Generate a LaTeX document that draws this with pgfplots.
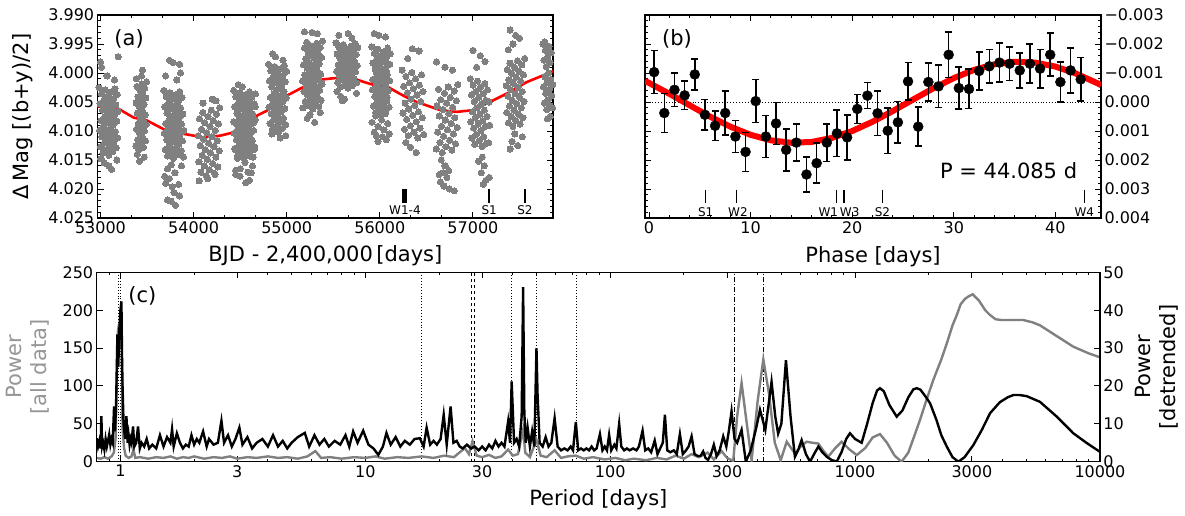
\documentclass[border=0pt]{standalone}
\usepackage{pgfplots}
\pgfplotsset{compat=1.18}
\usepackage{fontspec}
\setmainfont{DejaVu Sans}
\definecolor{dotgray}{RGB}{128,128,128}
\definecolor{labgray}{RGB}{150,150,150}
\definecolor{curvegray}{RGB}{128,128,128}
\newcommand{\tickfont}{\fontsize{16}{19}\selectfont}
\newcommand{\labfont}{\fontsize{21}{25}\selectfont}
\newcommand{\smallfont}{\fontsize{12}{14}\selectfont}
\pgfplotsset{
  myax/.style={
    scale only axis, anchor=south west,
    tick align=inside,
    major tick length=6pt, minor tick length=3pt,
    tick style={black, line width=0.9pt},
    axis line style={line width=1.2pt},
    tick label style={font=\tickfont},
    label style={font=\labfont},
    /pgf/number format/assume math mode=true,
    scaled ticks=false,
  }
}
\begin{document}
\begin{tikzpicture}
\path[use as bounding box] (0,0) rectangle (1185pt,515pt);

%================ panel (a)
\begin{axis}[myax, at={(97.7pt,297pt)}, width=455.3pt, height=203pt,
  xmin=52970, xmax=57860, ymin=3.990, ymax=4.025, y dir=reverse,
  xtick={53000,54000,55000,56000,57000}, xticklabels={53000,54000,55000,56000,57000},
  minor x tick num=2,
  ytick={3.990,3.995,4.000,4.005,4.010,4.015,4.020,4.025},
  yticklabels={3.990,3.995,4.000,4.005,4.010,4.015,4.020,4.025},
  minor y tick num=4,
  xlabel={BJD - 2,400,000\,[days]},
  ylabel={Δ\,Mag [(b+y)/2]},
  xlabel style={at={(axis description cs:0.5,-0.187)}, anchor=center},
  ylabel style={at={(axis description cs:-0.165,0.5)}, anchor=center},
]
\addplot[only marks, mark=*, mark size=3.1pt, color=dotgray, mark options={draw=dotgray, fill=dotgray, line width=0pt}] coordinates {
(52985,4.0025) (52990,4.0099) (52995,4.0053) (53000,4.0127) (53005,4.0082) (53010,4.0036) (53015,4.0110) (53020,4.0064) (53025,4.0138) (53030,4.0092)
(53035,4.0047) (53040,4.0121) (53045,4.0075) (53050,4.0029) (53055,4.0103) (53060,4.0057) (53065,4.0132) (53070,4.0086) (53075,4.0040) (53080,4.0114)
(53085,4.0068) (53090,4.0142) (53095,4.0097) (53100,4.0051) (53105,4.0125) (53110,4.0079) (53115,4.0033) (53120,4.0107) (53125,4.0062) (53130,4.0136)
(53135,4.0090) (53140,4.0044) (53145,4.0118) (53150,4.0072) (53155,4.0027) (53160,4.0101) (53165,4.0055) (53170,4.0129) (53175,4.0083) (53180,4.0037)
(53185,4.0112) (53190,4.0066)
(53000,3.9981) (53012,3.9990) (53190,3.9972) (53120,4.0166) (53040,4.0155) (53090,4.0160) (53150,4.0012) (53070,4.0005) (53175,4.0150) (53005,4.0148)
(53495,4.0015) (53491,4.0089) (53487,4.0043) (53483,4.0117) (53479,4.0072) (53475,4.0026) (53471,4.0100) (53467,4.0054) (53463,4.0128) (53459,4.0082)
(53455,4.0037) (53451,4.0111) (53447,4.0065) (53443,4.0019) (53439,4.0093) (53435,4.0047) (53431,4.0122) (53427,4.0076) (53423,4.0030) (53419,4.0104)
(53415,4.0058) (53411,4.0132) (53407,4.0087) (53403,4.0041) (53399,4.0115) (53395,4.0069) (53391,4.0023) (53387,4.0097) (53383,4.0052) (53379,4.0126)
(53450,3.9995) (53420,4.0152) (53470,4.0145) (53395,4.0140) (53440,4.0005) (53385,4.0010)
(53680,4.0030) (53685,4.0104) (53690,4.0058) (53695,4.0132) (53700,4.0087) (53705,4.0041) (53710,4.0115) (53715,4.0069) (53720,4.0143) (53725,4.0097)
(53730,4.0052) (53735,4.0126) (53740,4.0080) (53745,4.0034) (53750,4.0108) (53755,4.0062) (53760,4.0137) (53765,4.0091) (53770,4.0045) (53775,4.0119)
(53780,4.0073) (53785,4.0147) (53790,4.0102) (53795,4.0056) (53800,4.0130) (53805,4.0084) (53810,4.0038) (53815,4.0112) (53820,4.0067) (53825,4.0141)
(53830,4.0095) (53835,4.0049) (53840,4.0123) (53845,4.0077) (53850,4.0032) (53855,4.0106) (53860,4.0060) (53865,4.0134) (53870,4.0088) (53875,4.0042)
(53880,4.0117) (53885,4.0071) (53890,4.0145) (53895,4.0099)
(53740,3.9978) (53780,3.9982) (53850,3.9985) (53860,4.0000) (53700,4.0005) (53820,4.0012) (53760,4.0158) (53720,4.0165) (53800,4.0172) (53740,4.0182)
(53700,4.0190) (53770,4.0196) (53790,4.0206) (53720,4.0219) (53760,4.0221) (53805,4.0228) (53850,4.0212) (53840,4.0192) (53690,4.0178) (53870,4.0160)
(54281,4.0060) (54274,4.0134) (54267,4.0088) (54260,4.0162) (54253,4.0117) (54246,4.0071) (54239,4.0145) (54232,4.0099) (54225,4.0173) (54218,4.0127)
(54211,4.0082) (54204,4.0156) (54197,4.0110) (54190,4.0064) (54183,4.0138) (54176,4.0092) (54169,4.0167) (54162,4.0121) (54155,4.0075) (54148,4.0149)
(54141,4.0103) (54134,4.0177) (54127,4.0132) (54120,4.0086) (54113,4.0160) (54106,4.0114) (54099,4.0068) (54092,4.0142) (54085,4.0097) (54078,4.0171)
(54071,4.0125) (54064,4.0079) (54057,4.0153) (54050,4.0108)
(54200,4.0045) (54240,4.0048) (54100,4.0052) (54150,4.0182) (54060,4.0186) (54230,4.0175)
(54430,4.0030) (54435,4.0104) (54440,4.0058) (54445,4.0132) (54450,4.0087) (54455,4.0041) (54460,4.0115) (54465,4.0069) (54470,4.0143) (54475,4.0097)
(54480,4.0052) (54485,4.0126) (54490,4.0080) (54495,4.0034) (54500,4.0108) (54505,4.0062) (54510,4.0137) (54515,4.0091) (54520,4.0045) (54525,4.0119)
(54530,4.0073) (54535,4.0147) (54540,4.0102) (54545,4.0056) (54550,4.0130) (54555,4.0084) (54560,4.0038) (54565,4.0112) (54570,4.0067) (54575,4.0141)
(54580,4.0095) (54585,4.0049) (54590,4.0123) (54595,4.0077) (54600,4.0032) (54605,4.0106) (54610,4.0060) (54615,4.0134) (54620,4.0088) (54625,4.0042)
(54630,4.0117) (54635,4.0071) (54640,4.0145) (54645,4.0099) (54650,4.0053) (54655,4.0127) (54660,4.0081) (54665,4.0036)
(54662,4.0058) (54652,4.0132) (54642,4.0086) (54632,4.0160) (54622,4.0115) (54612,4.0069) (54602,4.0143) (54592,4.0097) (54582,4.0171) (54572,4.0125)
(54562,4.0080) (54552,4.0154) (54542,4.0108) (54532,4.0062) (54522,4.0136) (54512,4.0090) (54502,4.0165) (54492,4.0119) (54482,4.0073) (54472,4.0147)
(54462,4.0101) (54452,4.0175) (54442,4.0130) (54432,4.0084)
(54480,4.0020) (54520,4.0024) (54600,4.0185) (54560,4.0189) (54500,4.0178) (54620,4.0172) (54450,4.0168)
(54805,3.9985) (54810,4.0059) (54815,4.0013) (54820,4.0087) (54825,4.0042) (54830,3.9996) (54835,4.0070) (54840,4.0024) (54845,4.0098) (54850,4.0052)
(54855,4.0007) (54860,4.0081) (54865,4.0035) (54870,3.9989) (54875,4.0063) (54880,4.0017) (54885,4.0092) (54890,4.0046) (54895,4.0000) (54900,4.0074)
(54905,4.0028) (54910,4.0102) (54915,4.0057) (54920,4.0011) (54925,4.0085) (54930,4.0039) (54935,3.9993) (54940,4.0067) (54945,4.0022) (54950,4.0096)
(54955,4.0050) (54960,4.0004) (54965,4.0078) (54970,4.0032) (54975,3.9987) (54980,4.0061) (54985,4.0015) (54990,4.0089) (54995,4.0043) (55000,3.9997)
(54850,3.9967) (54880,3.9972) (54960,3.9978) (54990,4.0108) (54930,4.0112) (54840,4.0105)
(55385,3.9945) (55380,4.0019) (55375,3.9973) (55370,4.0047) (55365,4.0002) (55360,3.9956) (55355,4.0030) (55350,3.9984) (55345,4.0058) (55340,4.0012)
(55335,3.9967) (55330,4.0041) (55325,3.9995) (55320,3.9949) (55315,4.0023) (55310,3.9977) (55305,4.0052) (55300,4.0006) (55295,3.9960) (55290,4.0034)
(55285,3.9988) (55280,4.0062) (55275,4.0017) (55270,3.9971) (55265,4.0045) (55260,3.9999) (55255,3.9953) (55250,4.0027) (55245,3.9982) (55240,4.0056)
(55235,4.0010) (55230,3.9964) (55225,4.0038) (55220,3.9992) (55215,3.9947) (55210,4.0021) (55205,3.9975) (55200,4.0049) (55195,4.0003) (55190,3.9957)
(55185,4.0032) (55180,3.9986) (55175,4.0060) (55170,4.0014)
(55190,3.9929) (55270,3.9930) (55330,3.9932) (55220,4.0078) (55300,4.0085) (55250,4.0072) (55360,4.0068)
(55530,3.9948) (55536,3.9997) (55542,3.9967) (55548,4.0016) (55554,3.9986) (55560,3.9955) (55566,4.0005) (55572,3.9974) (55578,4.0024) (55584,3.9993)
(55590,3.9962) (55596,4.0012) (55602,3.9981) (55608,3.9951) (55614,4.0000) (55620,3.9970) (55626,4.0019) (55632,3.9989) (55638,3.9958) (55644,4.0007)
(55650,3.9977) (55656,4.0026) (55662,3.9996) (55668,3.9965) (55674,4.0015) (55680,3.9984) (55686,3.9954) (55692,4.0003) (55698,3.9972) (55704,4.0022)
(55710,3.9991) (55716,3.9961) (55722,4.0010) (55728,3.9980) (55734,3.9949) (55740,3.9998) (55746,3.9968) (55752,4.0017) (55758,3.9987) (55764,3.9956)
(55560,3.9935) (55660,3.9932) (55700,3.9940) (55580,4.0040) (55620,4.0045) (55600,4.0048) (55750,4.0035) (55540,4.0032)
(55915,3.9955) (55920,4.0029) (55925,3.9983) (55930,4.0057) (55935,4.0012) (55940,3.9966) (55945,4.0040) (55950,3.9994) (55955,4.0068) (55960,4.0022)
(55965,3.9977) (55970,4.0051) (55975,4.0005) (55980,3.9959) (55985,4.0033) (55990,3.9987) (55995,4.0062) (56000,4.0016) (56005,3.9970) (56010,4.0044)
(56015,3.9998) (56020,4.0072) (56025,4.0027) (56030,3.9981) (56035,4.0055) (56040,4.0009) (56045,3.9963) (56050,4.0037) (56055,3.9992) (56060,4.0066)
(56065,4.0020) (56070,3.9974) (56075,4.0048) (56080,4.0002) (56085,3.9957) (56090,4.0031) (56095,3.9985) (56100,4.0059) (56105,4.0013) (56110,3.9967)
(56108,3.9985) (56100,4.0059) (56092,4.0013) (56084,4.0087) (56076,4.0042) (56068,3.9996) (56060,4.0070) (56052,4.0024) (56044,4.0098) (56036,4.0052)
(56028,4.0007) (56020,4.0081) (56012,4.0035) (56004,3.9989) (55996,4.0063) (55988,4.0017) (55980,4.0092) (55972,4.0046) (55964,4.0000) (55956,4.0074)
(55948,4.0028) (55940,4.0102) (55932,4.0057) (55924,4.0011) (55916,4.0085)
(55940,3.9932) (55990,3.9935) (56060,3.9938) (56030,4.0110) (55980,4.0118) (56070,4.0115) (55960,4.0108) (56100,4.0105)
(56240,3.9995) (56248,4.0069) (56256,4.0023) (56264,4.0097) (56272,4.0052) (56280,4.0006) (56288,4.0080) (56296,4.0034) (56304,4.0108) (56312,4.0062)
(56320,4.0017) (56328,4.0091) (56336,4.0045) (56344,3.9999) (56352,4.0073) (56360,4.0027) (56368,4.0102) (56376,4.0056) (56384,4.0010) (56392,4.0084)
(56400,4.0038) (56408,4.0112) (56416,4.0067) (56424,4.0021) (56432,4.0095) (56440,4.0049) (56448,4.0003) (56456,4.0077) (56464,4.0032) (56472,4.0106)
(56350,3.9958) (56420,3.9962) (56300,3.9975) (56390,4.0137) (56330,4.0128) (56280,4.0120)
(56838,4.0020) (56830,4.0094) (56822,4.0048) (56814,4.0122) (56806,4.0077) (56798,4.0031) (56790,4.0105) (56782,4.0059) (56774,4.0133) (56766,4.0087)
(56758,4.0042) (56750,4.0116) (56742,4.0070) (56734,4.0024) (56726,4.0098) (56718,4.0052) (56710,4.0127) (56702,4.0081) (56694,4.0035) (56686,4.0109)
(56678,4.0063) (56670,4.0137) (56662,4.0092) (56654,4.0046) (56646,4.0120) (56638,4.0074) (56630,4.0028) (56622,4.0102) (56614,4.0057) (56606,4.0131)
(56610,3.9981) (56700,3.9990) (56780,3.9995) (56660,4.0150) (56700,4.0160) (56680,4.0172) (56720,4.0180) (56650,4.0188) (56690,4.0195) (56750,4.0200)
(56800,4.0203) (56740,4.0168) (56640,4.0175)
(56972,4.0010) (56978,4.0084) (56984,4.0038) (56990,4.0112) (56996,4.0067) (57002,4.0021) (57008,4.0095) (57014,4.0049) (57020,4.0123) (57026,4.0077)
(57032,4.0032) (57038,4.0106) (57044,4.0060) (57050,4.0014) (57056,4.0088) (57062,4.0042) (57068,4.0117) (57074,4.0071) (57080,4.0025) (57086,4.0099)
(57092,4.0053) (57098,4.0127) (57104,4.0082) (57110,4.0036) (57116,4.0110) (57122,4.0064) (57128,4.0018) (57134,4.0092) (57140,4.0047) (57146,4.0121)
(57152,4.0075) (57158,4.0029)
(57000,3.9961) (57080,3.9970) (57130,3.9980) (57040,3.9990) (57100,4.0145) (57060,4.0152) (57120,4.0160) (57090,4.0172) (57140,4.0185) (57110,4.0192)
(57175,4.0180) (57175,4.0050) (57180,4.0090) (57170,4.0120)
(57555,3.9975) (57549,4.0049) (57543,4.0003) (57537,4.0077) (57531,4.0032) (57525,3.9986) (57519,4.0060) (57513,4.0014) (57507,4.0088) (57501,4.0042)
(57495,3.9997) (57489,4.0071) (57483,4.0025) (57477,3.9979) (57471,4.0053) (57465,4.0007) (57459,4.0082) (57453,4.0036) (57447,3.9990) (57441,4.0064)
(57435,4.0018) (57429,4.0092) (57423,4.0047) (57417,4.0001) (57411,4.0075) (57405,4.0029) (57399,3.9983) (57393,4.0057) (57387,4.0012) (57381,4.0086)
(57375,4.0040) (57369,3.9994) (57363,4.0068) (57357,4.0022)
(57400,3.9926) (57460,3.9935) (57500,3.9940) (57430,3.9950) (57380,3.9960) (57450,4.0105) (57420,4.0118) (57480,4.0125) (57400,4.0131) (57530,4.0110)
(57752,3.9950) (57757,4.0024) (57762,3.9978) (57767,4.0052) (57772,4.0007) (57777,3.9961) (57782,4.0035) (57787,3.9989) (57792,4.0063) (57797,4.0017)
(57802,3.9972) (57807,4.0046) (57812,4.0000) (57817,3.9954) (57822,4.0028) (57827,3.9982) (57832,4.0057) (57837,4.0011) (57842,3.9965) (57847,4.0039)
(57800,4.0079) (57830,4.0075) (57770,3.9946) (57855,4.0060) (57858,4.0020)
};
\addplot[red, line width=2.6pt] coordinates {
(52970,4.0058) (53143,4.0057) (53357,4.0077) (53500,4.0082) (53715,4.0100) (53894,4.0105) (54108,4.0111) (54287,4.0108) (54466,4.0101) (54573,4.0082)
(54788,4.0065) (54966,4.0042) (55145,4.0027) (55342,4.0012) (55503,4.0009) (55681,4.0008) (55860,4.0017) (55967,4.0022) (56075,4.0023) (56217,4.0036)
(56360,4.0048) (56649,4.0064) (56828,4.0067) (57003,4.0064) (57182,4.0050) (57394,4.0033) (57573,4.0016) (57860,3.9997)
};
\addplot[black, line width=5pt] coordinates {(56270,4.0200) (56270,4.0224)};
\addplot[black, line width=1.5pt] coordinates {(57175,4.0200) (57175,4.0224)};
\addplot[black, line width=1.5pt] coordinates {(57558,4.0200) (57558,4.0224)};
\node[font=\smallfont] at (axis cs:56270,4.0236) {W1-4};
\node[font=\smallfont] at (axis cs:57175,4.0236) {S1};
\node[font=\smallfont] at (axis cs:57558,4.0236) {S2};
\node[font=\labfont] at (axis description cs:0.069,0.882) {(a)};
\end{axis}

%================ panel (b)
\begin{axis}[myax, at={(645pt,297pt)}, width=456pt, height=203pt,
  xmin=-0.4, xmax=44.5, ymin=-0.003, ymax=0.004, y dir=reverse,
  xtick={0,10,20,30,40}, xticklabels={0,10,20,30,40}, minor x tick num=4,
  ytick={-0.003,-0.002,-0.001,0,0.001,0.002,0.003,0.004},
  yticklabels={−0.003,−0.002,−0.001,0.000,0.001,0.002,0.003,0.004},
  minor y tick num=4,
  yticklabel pos=right,
  xlabel={Phase [days]},
  xlabel style={at={(axis description cs:0.5,-0.192)}, anchor=center},
]
\addplot[black, dotted, line width=0.9pt] coordinates {(0,0) (44.5,0)};
\addplot[red, line width=6pt] coordinates {
(-0.4,-0.000725) (0,-0.000656) (2,-0.000283) (4,0.000114) (6,0.000502) (8,0.000850) (10,0.001132) (12,0.001322) (14,0.001406) (16,0.001378)
(18,0.001239) (20,0.001001) (22,0.000682) (24,0.000311) (26,-0.000085) (28,-0.000474) (30,-0.000824) (32,-0.001108) (34,-0.001300) (36,-0.001386)
(38,-0.001359) (40,-0.001223) (42,-0.000986) (44,-0.000670) (44.5,-0.000583)
};
\addplot[black, only marks, mark=*, mark size=5pt,
  error bars/.cd, y dir=both, y explicit,
  error bar style={line width=1.6pt, black},
  error mark options={rotate=90, black, line width=1.6pt, mark size=3.5pt}]
  table[x index=0, y index=1, y error index=2] {
0.5 -0.00103 0.00074
1.5 0.00038 0.00067
2.5 -0.00042 0.00057
3.5 -0.00023 0.00049
4.5 -0.00095 0.00053
5.5 0.00044 0.00053
6.5 0.00082 0.00051
7.5 0.00038 0.00076
8.5 0.00119 0.00055
9.5 0.00172 0.00067
10.5 -0.00003 0.00074
11.5 0.00119 0.00072
12.5 0.00074 0.00072
13.5 0.00165 0.00072
14.5 0.00140 0.00064
15.5 0.00250 0.00061
16.5 0.00211 0.00069
17.5 0.00140 0.00065
18.5 0.00108 0.00080
19.5 0.00122 0.00077
20.5 0.00024 0.00050
21.5 -0.00022 0.00045
22.5 0.00039 0.00077
23.5 0.00099 0.00079
24.5 0.00070 0.00072
25.5 -0.00071 0.00065
26.5 0.00085 0.00067
27.5 -0.00069 0.00065
28.5 -0.00054 0.00073
29.5 -0.00163 0.00078
30.5 -0.00048 0.00072
31.5 -0.00045 0.00068
32.5 -0.00107 0.00065
33.5 -0.00123 0.00058
34.5 -0.00136 0.00068
35.5 -0.00132 0.00058
36.5 -0.00109 0.00060
37.5 -0.00132 0.00067
38.5 -0.00115 0.00066
39.5 -0.00163 0.00074
40.5 -0.00069 0.00068
41.5 -0.00109 0.00077
42.5 -0.00078 0.00075
};
\addplot[black, line width=1.4pt] coordinates {(5.56,0.00302) (5.56,0.00348)};
\addplot[black, line width=1.4pt] coordinates {(8.62,0.00302) (8.62,0.00348)};
\addplot[black, line width=1.4pt] coordinates {(18.46,0.00302) (18.46,0.00348)};
\addplot[black, line width=1.4pt] coordinates {(19.18,0.00302) (19.18,0.00348)};
\addplot[black, line width=1.4pt] coordinates {(23.0,0.00302) (23.0,0.00348)};
\addplot[black, line width=1.4pt] coordinates {(42.85,0.00302) (42.85,0.00348)};
\node[font=\smallfont] at (axis cs:5.57,0.00379) {S1};
\node[font=\smallfont] at (axis cs:8.75,0.00379) {W2};
\node[font=\smallfont] at (axis cs:17.65,0.00379) {W1};
\node[font=\smallfont] at (axis cs:19.75,0.00379) {W3};
\node[font=\smallfont] at (axis cs:22.98,0.00379) {S2};
\node[font=\smallfont] at (axis cs:42.85,0.00379) {W4};
\node[font=\labfont] at (axis cs:35.4,0.00238) {P = 44.085 d};
\node[font=\labfont] at (axis description cs:0.070,0.882) {(b)};
\end{axis}

%================ panel (c) left axis (all data)
\begin{axis}[myax, at={(96.7pt,53.3pt)}, width=1003.3pt, height=189.4pt,
  xmode=log, xmin=0.8, xmax=10000, ymin=0, ymax=250,
  xtick={1,3,10,30,100,300,1000,3000,10000},
  xticklabels={1,3,10,30,100,300,1000,3000,10000},
  minor xtick={0.8,0.9,2,4,5,6,7,8,9,20,40,50,60,70,80,90,200,400,500,600,700,800,900,2000,4000,5000,6000,7000,8000,9000},
  ytick={0,50,100,150,200,250}, yticklabels={0,50,100,150,200,250},
  ytick pos=left,
  xlabel={Period [days]},
  xlabel style={at={(axis description cs:0.5,-0.202)}, anchor=center},
  ylabel={Power\\{}[all data]},
  ylabel style={at={(axis description cs:-0.0685,0.5)}, anchor=center, align=center, text=labgray},
]
\addplot[black, dotted, line width=0.9pt] coordinates {(0.978,0) (0.978,250)};
\addplot[black, dotted, line width=0.9pt] coordinates {(1.003,0) (1.003,250)};
\addplot[black, dotted, line width=0.9pt] coordinates {(16.9,0) (16.9,250)};
\addplot[black, dash pattern=on 3pt off 3pt, line width=0.8pt] coordinates {(27.15,0) (27.15,250)};
\addplot[black, dash pattern=on 3pt off 3pt, line width=0.8pt] coordinates {(27.85,0) (27.85,250)};
\addplot[black, dotted, line width=0.9pt] coordinates {(39.6,0) (39.6,250)};
\addplot[black, dotted, line width=0.9pt] coordinates {(50.0,0) (50.0,250)};
\addplot[black, dotted, line width=0.9pt] coordinates {(72.9,0) (72.9,250)};
\addplot[black, dash pattern=on 5pt off 2pt on 1pt off 2pt, line width=0.9pt] coordinates {(323,0) (323,250)};
\addplot[black, dash pattern=on 5pt off 2pt on 1pt off 2pt, line width=0.9pt] coordinates {(422,0) (422,250)};
\addplot[curvegray, line width=2.4pt] coordinates {
(0.80,5) (0.83,4) (0.86,6) (0.89,4) (0.92,7) (0.94,12) (0.955,30) (0.965,100) (0.975,170) (0.985,180)
(0.995,181) (1.005,178) (1.012,150) (1.02,45) (1.035,18) (1.05,8) (1.08,5) (1.11,7) (1.13,16) (1.15,5)
(1.2,6) (1.3,4) (1.4,6) (1.5,5) (1.6,7) (1.7,4) (1.8,6) (1.9,5) (2.0,7) (2.2,4)
(2.4,6) (2.6,5) (2.8,7) (3.0,4) (3.3,6) (3.6,5) (4.0,7) (4.4,5) (4.8,6) (5.3,4)
(5.8,7) (6.25,14) (6.6,5) (7.2,6) (8.0,4) (9.0,6) (10,5) (11,7) (12,4) (13.5,6)
(15,5) (17,7) (19,5) (21,8) (23,6) (25.5,18) (26.5,10) (27.4,27) (28.5,8) (30,6)
(32,9) (34,5) (36,7) (38.3,16) (40,8) (42,10) (44.1,42) (45,12) (47,6) (50,29)
(52,8) (55,6) (59.3,15) (63,5) (67,7) (72.4,8) (78,4) (85,6) (95,3) (105,5)
(115,2) (125,4) (140,2) (155,5) (170,3) (185,8) (200,4) (215,10) (230,6) (250,12)
(265,3) (285,14) (300,5) (318,1) (330,60) (344,104) (358,60) (378,2) (400,80) (422,135)
(445,90) (470,25) (497,2) (526,26.4) (548,18) (568,11) (600,20) (634,26.4) (670,25) (708,24)
(740,15) (777,6.6) (830,18) (881,26.4) (950,16) (1016,8.8) (1100,18) (1180,32) (1264,36.5) (1350,25)
(1450,8) (1549,0) (1650,12) (1750,35) (1841,55) (1950,80) (2087,108) (2250,135) (2368,156) (2500,180)
(2602,193.6) (2700,208) (2812,215) (2900,218) (3022,221) (3200,213) (3400,200) (3558,193.6) (3750,188) (3971,187)
(4400,187) (4863,187) (5300,184) (5690,180) (6500,168) (7787,151.8) (9000,143) (10000,137.8)
};
\node[font=\labfont] at (axis description cs:0.0456,0.877) {(c)};
\end{axis}

%================ panel (c) right axis (detrended)
\begin{axis}[myax, at={(96.7pt,53.3pt)}, width=1003.3pt, height=189.4pt,
  xmode=log, xmin=0.8, xmax=10000, ymin=0, ymax=50,
  hide x axis,
  ytick={0,10,20,30,40,50}, yticklabels={0,10,20,30,40,50},
  ytick pos=right, yticklabel pos=right,
  ylabel={Power\\{}[detrended]},
  ylabel style={at={(axis description cs:1.0568,0.5)}, anchor=center, align=center},
]
\addplot[black, line width=2.4pt] coordinates {
(0.80,6.2) (0.81,4) (0.82,5.5) (0.83,3.5) (0.836,12) (0.842,4) (0.85,5) (0.86,3.2) (0.87,6) (0.88,4)
(0.89,5.5) (0.90,7.2) (0.91,4.5) (0.92,6) (0.93,5) (0.942,14.6) (0.95,8) (0.96,15) (0.972,33.6) (0.98,25)
(0.99,35) (1.000,40) (1.0095,42.3) (1.015,28) (1.02,20) (1.03,10) (1.045,6) (1.058,12) (1.07,5) (1.08,7)
(1.09,4.5) (1.10,6) (1.11,5) (1.126,9.3) (1.14,4) (1.16,5) (1.18,9.3) (1.20,3.5) (1.22,5) (1.25,4)
(1.28,6) (1.31,3.5) (1.35,4.5) (1.40,3.5) (1.45,7) (1.50,4) (1.55,6.5) (1.60,5) (1.625,8.6) (1.65,4)
(1.70,7.5) (1.75,5) (1.80,3.5) (1.85,4.5) (1.90,4) (1.95,7) (2.0,4.5) (2.05,6) (2.1,5) (2.175,8)
(2.25,4) (2.30,6) (2.40,4.5) (2.50,5) (2.585,10.8) (2.65,5) (2.75,7) (2.85,4) (2.95,6) (3.06,9)
(3.15,4.5) (3.3,6.5) (3.45,3.5) (3.6,5) (3.8,6) (4.0,4) (4.2,7) (4.4,4) (4.6,5.5) (4.8,3.5)
(5.0,5) (5.3,6.5) (5.66,7.6) (5.9,4) (6.2,7) (6.5,4.5) (6.8,6) (7.1,4) (7.5,5.5) (7.9,4.5)
(8.3,7) (8.6,4) (8.92,8) (9.3,5) (9.8,8.2) (10.3,4.5) (10.8,3.5) (11.3,1.8) (11.8,4) (12.2,7.6)
(12.7,4.5) (13.3,6.5) (13.9,4) (14.5,5.5) (15.2,4.5) (15.9,6) (16.7,6.2) (17.3,4) (17.8,9) (18.4,4.5)
(19.0,5.5) (19.6,4.5) (20.3,6) (20.9,12.4) (21.5,4.5) (22.3,14.6) (22.9,5) (23.6,5.5) (24.3,4) (25,3.5)
(26,4.5) (27,3.5) (28,4) (29,3) (30,4) (31,3) (32,4.5) (33,3.5) (34,5.5) (35,4)
(36,5) (37,4) (38.3,10.6) (39.0,5) (39.6,21.2) (40.5,5) (41.5,6) (42.5,4) (43.5,12) (44.1,46.1)
(44.6,13) (45.2,5) (46,9) (47,4) (48,8) (49,4) (50.0,30) (50.5,18) (51.5,5) (53,4)
(54.5,6.5) (56,4) (57.5,5) (59.3,11.5) (61,4) (63,3) (65,3.5) (67,3) (69,4) (70.5,3)
(72.4,10.5) (74,3) (76,3.5) (78,3) (80,3.5) (82,3) (84,4) (86,3) (88,3.5) (90.8,7.3)
(93,3) (95,4) (97,3) (99,7.1) (101,3) (104,4.5) (106,3.5) (108.8,10) (111,4) (114,3)
(117,3.5) (120,3) (124,3.5) (128,3) (131,4) (135.6,8.2) (139,3) (143,3.5) (147,2.5) (152,5.6)
(156,2) (160,3.5) (164,5) (167.3,12.4) (171,3) (176,2.5) (182,3) (187,2) (192.6,7.3) (198,2)
(204,3) (209,4) (215,6.7) (221,2) (228,1.5) (234,1.5) (239.6,2.7) (245,1) (251,0.5) (258,2)
(265,4.5) (272,1.5) (280,3) (289.5,6.7) (298,4) (305,8) (313,13.3) (322,6) (330,5) (344,8.4)
(358,0) (375,3) (395,9) (409,13.7) (430,8.4) (456,21.1) (472,12) (485,7.4) (500,10) (522,26.8)
(545,12) (568,1.3) (585,3) (605,5.7) (630,2) (655,0) (680,2) (708,4) (735,2.5) (766,1.3)
(800,0.5) (841,0) (880,2.5) (920,6) (953,7.5) (1000,6) (1064,5) (1120,10) (1180,15.5) (1230,18.8)
(1264,19.4) (1310,18.6) (1380,15) (1479,11.9) (1560,13.5) (1650,17) (1730,19.1) (1785,19.4) (1850,19) (1950,17)
(2025,15.4) (2150,11) (2250,7) (2368,4) (2500,1.2) (2641,0) (2800,1.2) (3042,4.4) (3300,8.5) (3558,12.8)
(3900,15.7) (4200,17) (4429,17.6) (4700,17.6) (5022,17.3) (5690,15.8) (6662,11.9) (7787,7.5) (8800,5) (10000,2.6)
};
\end{axis}
\end{tikzpicture}
\end{document}
